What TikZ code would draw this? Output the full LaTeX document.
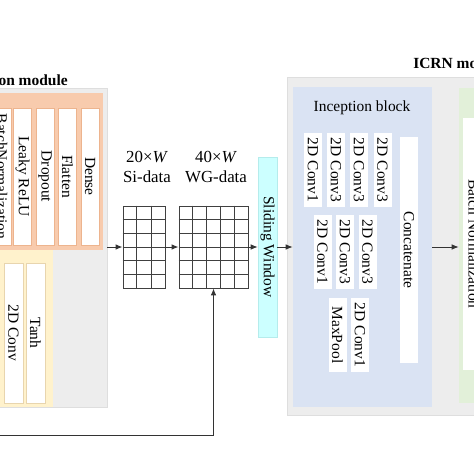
\documentclass[tikz,border=0pt]{standalone}
\usepackage{fontspec}
\setmainfont{Liberation Serif}
\usetikzlibrary{arrows.meta,calc}
\definecolor{grayfill}{HTML}{EDEDED}
\definecolor{grayline}{HTML}{DEDEDE}
\definecolor{orfill}{HTML}{F8CBAD}
\definecolor{orline}{HTML}{EDB48E}
\definecolor{yefill}{HTML}{FFF2CC}
\definecolor{yeline}{HTML}{E8D5AE}
\definecolor{cyfill}{HTML}{CCFFFF}
\definecolor{cyline}{HTML}{B5ECEC}
\definecolor{blfill}{HTML}{DAE3F3}
\definecolor{grfill}{HTML}{E2F0D9}
\newcommand{\pu}{0.025cm}
\tikzset{
  box/.style={inner sep=0pt},
  lay/.style={rotate=-90, inner sep=0pt, fill=white, minimum height=18*\pu, font=\fontsize{11}{13}\selectfont},
  orlay/.style={lay, draw=orline, line width=0.6pt},
  yelay/.style={lay, draw=yeline, line width=0.6pt, minimum height=19*\pu},
  datagrid/.style={draw=black!75, line width=0.6pt, inner sep=0pt},
  dlab/.style={font=\fontsize{12}{14}\selectfont},
  ttl/.style={font=\fontsize{11}{13}\selectfont\bfseries, inner sep=0pt},
  arr/.style={draw=black!80, line width=0.7pt, -{Latex[length=5pt,width=4pt]}}
}
\begin{document}
\begin{tikzpicture}[x=\pu,y=-\pu]
\useasboundingbox (0,0) rectangle (474,474);
\clip (0,0) rectangle (474,474);

\node[box, fill=grayfill, draw=grayline, minimum width=117*\pu, minimum height=319*\pu] (genmod) at (48.5,247.5) {};
\node[ttl, anchor=east] (gentitle) at (68,80) {on module};
\node[box, fill=orfill, minimum width=113*\pu, minimum height=157*\pu] (dense block) at (46.5,171.5) {};
\node[orlay, minimum width=137*\pu] (bn) at (2,176.5) {BatchNormalization};
\node[orlay, minimum width=137*\pu] (lrelu) at (22.5,176.5) {Leaky ReLU};
\node[orlay, minimum width=137*\pu] (drop) at (45,176.5) {Dropout};
\node[orlay, minimum width=137*\pu] (flat) at (67.5,176.5) {Flatten};
\node[orlay, minimum width=137*\pu] (dense) at (90,176.5) {Dense};
\node[box, fill=yefill, minimum width=63*\pu, minimum height=157*\pu] (convblock) at (21.5,328.5) {};
\node[yelay, minimum width=140*\pu] (conv) at (13.5,333) {2D Conv};
\node[yelay, minimum width=140*\pu] (tanh) at (35.5,333) {Tanh};

\node[datagrid, minimum width=42*\pu, minimum height=82*\pu] (si) at (144,247) {};
\foreach \i in {1,2}
  \draw[black!75, line width=0.6pt] ($(si.north west)!\i/3!(si.north east)$) -- ($(si.south west)!\i/3!(si.south east)$);
\foreach \j in {1,...,5}
  \draw[black!75, line width=0.6pt] ($(si.north west)!\j/6!(si.south west)$) -- ($(si.north east)!\j/6!(si.south east)$);
\node[datagrid, minimum width=69*\pu, minimum height=82*\pu] (wg) at (213.5,247) {};
\foreach \i in {1,...,4}
  \draw[black!75, line width=0.6pt] ($(wg.north west)!\i/5!(wg.north east)$) -- ($(wg.south west)!\i/5!(wg.south east)$);
\foreach \j in {1,...,5}
  \draw[black!75, line width=0.6pt] ($(wg.north west)!\j/6!(wg.south west)$) -- ($(wg.north east)!\j/6!(wg.south east)$);
\node[dlab] (sisize) at (147,157) {20×\textit{W}};
\node[dlab] (siname) at (147,177) {Si-data};
\node[dlab] (wgsize) at (216,157) {40×\textit{W}};
\node[dlab] (wgname) at (216,177) {WG-data};
\node[lay, fill=cyfill, draw=cyline, minimum width=180*\pu, minimum height=19*\pu] (slide) at (267.5,247) {Sliding Window};

\node[box, fill=grayfill, draw=grayline, minimum width=213*\pu, minimum height=338*\pu] (icrn) at (393.5,246) {};
\node[ttl, anchor=west] (icrntitle) at (413,63) {ICRN mo};
\node[box, fill=blfill, minimum width=139*\pu, minimum height=320*\pu] (incep) at (362.5,247) {};
\node[font=\fontsize{11}{13}\selectfont] (inceptitle) at (362,108) {Inception block};
\node[lay, minimum width=74*\pu] (conv1a) at (313,170) {2D Conv1};
\node[lay, minimum width=74*\pu] (conv3a) at (336,170) {2D Conv3};
\node[lay, minimum width=74*\pu] (conv3b) at (359,170) {2D Conv3};
\node[lay, minimum width=74*\pu] (conv3c) at (382.5,170) {2D Conv3};
\node[lay, minimum width=74*\pu] (conv1b) at (322.5,252) {2D Conv1};
\node[lay, minimum width=74*\pu] (conv3d) at (345,252) {2D Conv3};
\node[lay, minimum width=74*\pu] (conv3e) at (367.5,252) {2D Conv3};
\node[lay, minimum width=74*\pu] (pool) at (337.5,335) {MaxPool};
\node[lay, minimum width=74*\pu] (conv1c) at (360,335) {2D Conv1};
\node[lay, minimum width=226*\pu] (concat) at (409,250) {Concatenate};
\node[box, fill=grfill, minimum width=61*\pu, minimum height=315*\pu] (bnblock) at (489.5,245.5) {};
\node[lay, minimum width=252*\pu, minimum height=22*\pu] (bn2) at (474,244) {Batch Normalization};

\draw[arr] (genmod.east |- si.west) -- (si.west);
\draw[arr] (si) -- (wg);
\draw[arr] (wg) -- (slide);
\draw[arr] (slide) -- (incep);
\draw[arr] (incep.east) -- (incep.east -| bnblock.west);
\coordinate (fbin) at (-5,435);
\draw[arr] (fbin) -| (wg.south);
\end{tikzpicture}
\end{document}
